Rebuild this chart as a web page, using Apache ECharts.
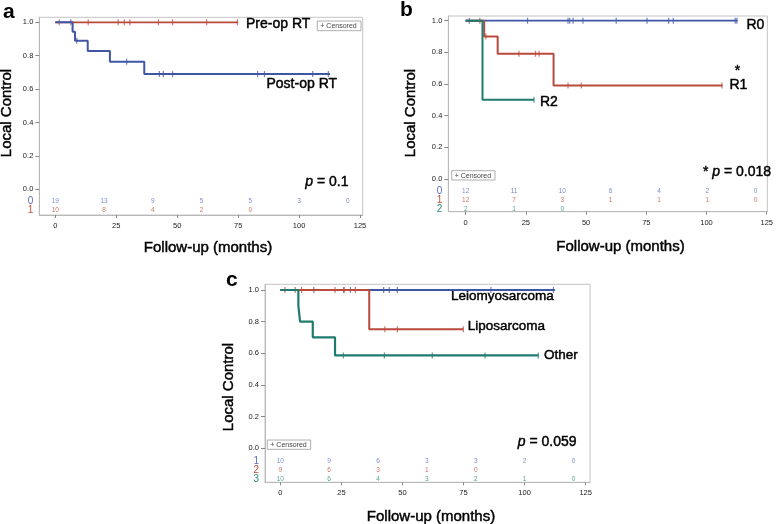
<!DOCTYPE html>
<html><head><meta charset="utf-8">
<script src="https://cdn.jsdelivr.net/npm/echarts@6/dist/echarts.min.js"></script>
<style>html,body{margin:0;padding:0;background:#fff}#c{width:776px;height:524px}</style>
</head><body><div id="c"></div>
<script>
// ---------- shared ticks ----------
const xTickValues = [0, 25, 50, 75, 100, 125];
const yTickValues = [0, 0.2, 0.4, 0.6, 0.8, 1.0];
const riskTimes = [0, 20, 40, 60, 80, 100, 120];

// ---------- panel a ----------
const aPreTimes = [0, 75];
const aPreSurv = [1, 1];
const aPreCensor = [1.6, 13.5, 25.8, 28.3, 30.6, 42.3, 48.1, 62.1, 74.7];
const aPostTimes = [0, 7.1, 8.1, 13.3, 22.4, 36.5, 112.7];
const aPostSurv = [1, 0.944, 0.889, 0.828, 0.764, 0.69, 0.69];
const aPostCensor = [6.4, 8.8, 29.3, 42.7, 44.3, 48.1, 83, 85.8, 105.6, 112];
const aRiskRows = ['0', '1'];
const aRisk0 = [19, 13, 9, 5, 5, 3, 0];
const aRisk1 = [10, 8, 4, 2, 0];

// ---------- panel b ----------
const bR0Times = [0, 112.9];
const bR0Surv = [1, 1];
const bR0Censor = [1.5, 25.7, 42.5, 43.2, 44.6, 48.7, 62.5, 75.3, 84.3, 86.2, 111.9, 112.6];
const bR1Times = [0, 7.7, 13.3, 36.5, 106.6];
const bR1Surv = [1, 0.9, 0.791, 0.591, 0.591];
const bR1Censor = [5.9, 8.4, 22.1, 29.0, 30.5, 42.5, 48, 106.4];
const bR2Times = [0, 7.0, 28.4];
const bR2Surv = [1, 0.5, 0.5];
const bR2Censor = [28.4];
const bRiskRows = ['0', '1', '2'];
const bRisk0 = [12, 11, 10, 6, 4, 2, 0];
const bRisk1 = [12, 7, 3, 1, 1, 1, 0];
const bRisk2 = [2, 1, 0];

// ---------- panel c ----------
const cLeioTimes = [0, 112.4];
const cLeioSurv = [1, 1];
const cLeioCensor = [13.7, 26, 28.7, 42.3, 44.6, 47.9, 86.2, 111.8];
const cLipoTimes = [0, 36.4, 74.9];
const cLipoSurv = [1, 0.752, 0.752];
const cLipoCensor = [1.9, 6.1, 8.7, 22.4, 26.1, 30.7, 42.8, 47.9, 74.9];
const cOtherTimes = [0, 7.4, 8.1, 13.3, 22.4, 105.6];
const cOtherSurv = [1, 0.899, 0.8, 0.701, 0.587, 0.587];
const cOtherCensor = [25.8, 42.6, 62.2, 83.8, 105.6];
const cRiskRows = ['1', '2', '3'];
const cRisk1 = [10, 9, 6, 3, 3, 2, 0];
const cRisk2 = [9, 6, 3, 1, 0];
const cRisk3 = [10, 6, 4, 3, 2, 1, 0];

// ---------- styling ----------
const FF = 'Liberation Sans, Arial, Helvetica, sans-serif';
const BLUE = '#3f56a6', RED = '#b94a3c', TEAL = '#1f7b70';
const BLUE_T = '#5b6fc0', RED_T = '#c0503f', TEAL_T = '#2a8c80';

function survAt(T, S, t) { let s = S[0]; for (let i = 0; i < T.length; i++) if (T[i] <= t) s = S[i]; return s; }

const panels = [
  { frame: { l: 39.3, t: 17.3, w: 323.4, h: 197.7 }, xr: [-6.56, 126.1], yr: [-0.154, 1.03],
    risk: { t: 197.2, h: 18 }, rows: aRiskRows, rowColors: [BLUE_T, RED_T],
    curves: [
      { T: aPreTimes, S: aPreSurv, C: aPreCensor, color: RED, w: 1.8 },
      { T: aPostTimes, S: aPostSurv, C: aPostCensor, color: BLUE, w: 2 }],
    risks: [aRisk0, aRisk1] },
  { frame: { l: 448.3, t: 16, w: 320, h: 195.7 }, xr: [-7.2, 125.25], yr: [-0.2066, 1.0297],
    risk: { t: 187.3, h: 26.4 }, rows: bRiskRows, rowColors: [BLUE_T, RED_T, TEAL_T],
    curves: [
      { T: bR0Times, S: bR0Surv, C: bR0Censor, color: BLUE, w: 1.8 },
      { T: bR1Times, S: bR1Surv, C: bR1Censor, color: RED, w: 2 },
      { T: bR2Times, S: bR2Surv, C: bR2Censor, color: TEAL, w: 2 }],
    risks: [bRisk0, bRisk1, bRisk2] },
  { frame: { l: 265, t: 284.3, w: 325, h: 198 }, xr: [-6.26, 126.76], yr: [-0.2148, 1.036],
    risk: { t: 456.5, h: 27 }, rows: cRiskRows, rowColors: [BLUE_T, RED_T, TEAL_T],
    curves: [
      { T: cLeioTimes, S: cLeioSurv, C: cLeioCensor, color: BLUE, w: 1.8 },
      { T: cLipoTimes, S: cLipoSurv, C: cLipoCensor, color: RED, w: 2 },
      { T: cOtherTimes, S: cOtherSurv, C: cOtherCensor, color: TEAL, w: 2.2 }],
    risks: [cRisk1, cRisk2, cRisk3] }
];

const grid = [], xAxis = [], yAxis = [], series = [];
panels.forEach((p, pi) => {
  const gMain = grid.length;
  grid.push({ left: p.frame.l, top: p.frame.t, width: p.frame.w, height: p.frame.h,
    show: true, borderColor: '#c4c4c4', borderWidth: 1, backgroundColor: 'transparent' });
  xAxis.push({ gridIndex: gMain, type: 'value', min: p.xr[0], max: p.xr[1],
    axisLine: { show: true, onZero: false, lineStyle: { color: '#b8b8b8', width: 1 } },
    axisTick: { show: true, customValues: xTickValues, length: 3, lineStyle: { color: '#888' } },
    axisLabel: { customValues: xTickValues, margin: 7, fontSize: 7.5, color: '#222', fontFamily: FF },
    splitLine: { show: false } });
  yAxis.push({ gridIndex: gMain, type: 'value', min: p.yr[0], max: p.yr[1],
    axisLine: { show: true, onZero: false, lineStyle: { color: '#b8b8b8', width: 1 } },
    axisTick: { show: true, customValues: yTickValues, length: 4, lineStyle: { color: '#888' } },
    axisLabel: { customValues: yTickValues, margin: 6, fontSize: 7.5, color: '#222', fontFamily: FF,
      formatter: v => Number(v).toFixed(1) },
    splitLine: { show: false } });
  const gRisk = grid.length;
  grid.push({ left: p.frame.l, top: p.risk.t, width: p.frame.w, height: p.risk.h, show: false });
  xAxis.push({ gridIndex: gRisk, type: 'value', min: p.xr[0], max: p.xr[1], show: false });
  yAxis.push({ gridIndex: gRisk, type: 'category', data: p.rows, inverse: true,
    axisLine: { show: false }, axisTick: { show: false }, splitLine: { show: false },
    axisLabel: { interval: 0, margin: 6, fontSize: 10, fontFamily: FF, color: (v, i) => p.rowColors[i] } });

  p.curves.forEach(c => {
    series.push({ type: 'line', xAxisIndex: gMain, yAxisIndex: gMain, step: 'end', symbol: 'none',
      clip: false, silent: true, lineStyle: { color: c.color, width: c.w },
      data: c.T.map((t, i) => [t, c.S[i]]) });
    series.push({ type: 'scatter', xAxisIndex: gMain, yAxisIndex: gMain, symbol: 'rect',
      symbolSize: [1.2, 6], silent: true, clip: false, itemStyle: { color: c.color, opacity: 0.75 },
      data: c.C.map(t => [t, survAt(c.T, c.S, t)]) });
  });
  p.risks.forEach((arr, ri) => {
    series.push({ type: 'scatter', xAxisIndex: gRisk, yAxisIndex: gRisk, symbolSize: 1, silent: true,
      itemStyle: { color: 'rgba(0,0,0,0)' },
      labelLayout: { hideOverlap: false },
      label: { show: true, position: 'inside', fontSize: 6.5, fontFamily: FF, color: p.rowColors[ri],
        formatter: prm => String(prm.value[2]) },
      data: arr.map((v, i) => [riskTimes[i], ri, v]) });
  });
});

function txt(x, y, text, size, opt) {
  opt = opt || {};
  return { type: 'text', x: x, y: y, rotation: opt.rot || 0, silent: true,
    style: { text: text, fontSize: size, fontFamily: FF, fontWeight: opt.weight || 'normal',
      fill: opt.color || '#000', align: opt.align || 'left', verticalAlign: opt.va || 'middle',
      stroke: opt.stroke || null, lineWidth: opt.lw || 0, rich: opt.rich } };
}
function censBox(x, y, w, h) {
  return [
    { type: 'rect', shape: { x: x, y: y, width: w, height: h }, silent: true,
      style: { fill: '#fff', stroke: '#9a9a9a', lineWidth: 0.8 } },
    txt(x + 3, y + h / 2 + 0.3, '+ Censored', 7, { color: '#444' })
  ];
}
const H = { stroke: '#000', lw: 0.45 };
const pRich = { i: { fontStyle: 'italic', fontSize: 14, fontFamily: FF, fill: '#000', stroke: '#000', lineWidth: 0.45 } };
const graphics = [
  txt(3, 12, 'a', 21, { weight: 'bold' }),
  txt(400, 10, 'b', 21, { weight: 'bold' }),
  txt(226, 280, 'c', 21, { weight: 'bold' }),
  txt(7, 113, 'Local Control', 15, Object.assign({ rot: Math.PI / 2, align: 'center' }, H)),
  txt(411, 113, 'Local Control', 15, Object.assign({ rot: Math.PI / 2, align: 'center' }, H)),
  txt(229, 387, 'Local Control', 15, Object.assign({ rot: Math.PI / 2, align: 'center' }, H)),
  txt(208, 248, 'Follow-up (months)', 15, Object.assign({ align: 'center' }, H)),
  txt(620.5, 246.7, 'Follow-up (months)', 15, Object.assign({ align: 'center' }, H)),
  txt(431, 516.7, 'Follow-up (months)', 15, Object.assign({ align: 'center' }, H)),
  txt(246, 24.5, 'Pre-op RT', 14, H),
  txt(266.5, 84, 'Post-op RT', 14, H),
  txt(348.5, 182.5, '{i|p} = 0.1', 14, Object.assign({ align: 'right', rich: pRich }, H)),
  txt(746.5, 25, 'R0', 14, H),
  txt(729.5, 85.5, 'R1', 14, H),
  txt(737.5, 71.5, '*', 14, Object.assign({ align: 'center' }, H)),
  txt(540, 101.7, 'R2', 14, H),
  txt(771, 172.5, '* {i|p} = 0.018', 14, Object.assign({ align: 'right', rich: pRich }, H)),
  txt(451, 296, 'Leiomyosarcoma', 13.5, H),
  txt(467.7, 326.7, 'Liposarcoma', 13.5, H),
  txt(544, 355, 'Other', 13.5, H),
  txt(576.5, 441.7, '{i|p} = 0.059', 14, Object.assign({ align: 'right', rich: pRich }, H))
].concat(censBox(317.3, 21, 43.7, 9.7), censBox(451.7, 170.7, 43.3, 9.3), censBox(267.3, 440, 43.4, 9.3));

const chart = echarts.init(document.getElementById('c'), null, { renderer: 'canvas' });
chart.setOption({ animation: false, backgroundColor: '#fff', grid, xAxis, yAxis, series, graphic: graphics });
</script></body></html>
